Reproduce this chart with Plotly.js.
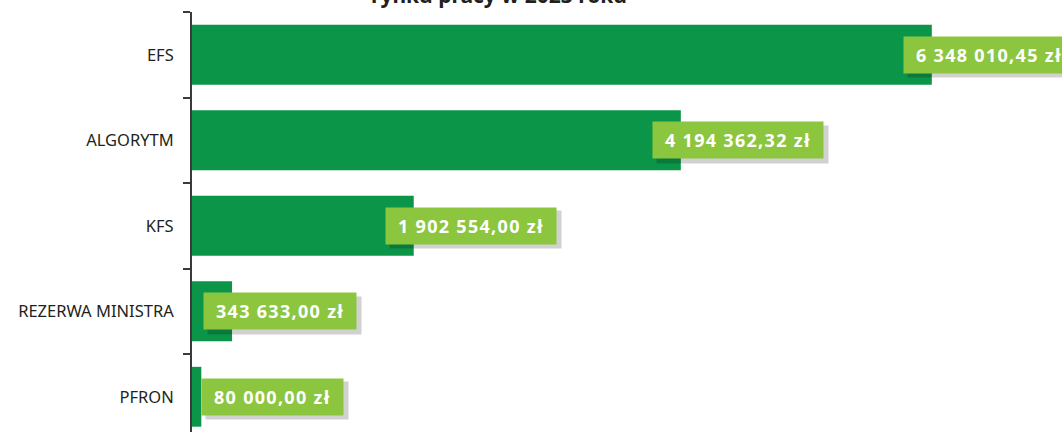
<!DOCTYPE html>
<html>
<head>
<meta charset="utf-8">
<script src="https://cdn.plot.ly/plotly-3.0.1.min.js"></script>
<style>
html,body{margin:0;padding:0;background:#fff;}
#chart{width:1062px;height:432px;}
.annotation-text.lbl, .lbltext{letter-spacing:1.3px;}
</style>
</head>
<body>
<div id="chart"></div>
<script>
const categories = ["EFS", "ALGORYTM", "KFS", "REZERWA MINISTRA", "PFRON"];
const values = [6348010.45, 4194362.32, 1902554.00, 343633.00, 80000.00];
const labelTexts = ["6 348 010,45 zł", "4 194 362,32 zł", "1 902 554,00 zł", "343 633,00 zł", "80 000,00 zł"];
const titleText = "rynku pracy w 2023 roku";

const W = 1062, H = 432;
const mL = 192, mT = 12;
const plotW = W - mL;
const xMax = 7465000;
const pxPerUnit = plotW / xMax;
const PAD = 6;

const bar = {
  type: 'bar',
  orientation: 'h',
  y: categories,
  x: values,
  width: 0.7,
  marker: {color: '#0b9548'},
  hoverinfo: 'skip'
};

const fontLbl = {family: 'Noto Sans, sans-serif', size: 18, color: '#ffffff', weight: 700};

function shiftFor(i) {
  const barPx = values[i] * pxPerUnit;
  return Math.max(-29, 9 - barPx);
}

const mainAnns = categories.map((c, i) => ({
  x: values[i], y: c, xref: 'x', yref: 'y', xanchor: 'left', yanchor: 'middle',
  xshift: shiftFor(i), yshift: 0,
  text: '<span class="lbltext" style="letter-spacing:1.3px">&nbsp;' + labelTexts[i] + '&nbsp;</span>', showarrow: false,
  bgcolor: '#8cc63f', borderpad: PAD, font: fontLbl
}));

const titleAnn = {
  x: (499 - mL) / plotW, y: 1, xref: 'paper', yref: 'paper', xanchor: 'center', yanchor: 'middle',
  yshift: 17, text: '<b>' + titleText + '</b>', showarrow: false,
  font: {family: 'Noto Sans, sans-serif', size: 21, color: '#231f20'}
};

const layout = {
  width: W, height: H,
  margin: {l: mL, r: 0, t: mT, b: 0, pad: 0},
  paper_bgcolor: '#ffffff', plot_bgcolor: '#ffffff',
  showlegend: false,
  xaxis: {range: [0, xMax], visible: false, showgrid: false, zeroline: false, fixedrange: true},
  yaxis: {
    type: 'category',
    range: [4.412, -0.5],
    showline: true, linecolor: '#3a3a3a', linewidth: 2,
    ticks: 'outside', ticklen: 7, tickwidth: 2, tickcolor: '#3a3a3a',
    tickson: 'boundaries',
    ticklabelstandoff: 13,
    showgrid: false, zeroline: false,
    tickfont: {family: 'Noto Sans, sans-serif', size: 16.5, color: '#231f20'}
  },
  annotations: mainAnns.concat([titleAnn])
};

Plotly.newPlot('chart', [bar], layout, {displayModeBar: false, staticPlot: true}).then(gd => {
  const groups = gd.querySelectorAll('g.annotation');
  const shadows = [];
  mainAnns.forEach((a, i) => {
    const r = groups[i] && groups[i].querySelector('rect.bg');
    if (!r) return;
    const w = parseFloat(r.getAttribute('width'));
    const h = parseFloat(r.getAttribute('height'));
    shadows.push({
      x: a.x, y: a.y, xref: 'x', yref: 'y', xanchor: 'left', yanchor: 'middle',
      xshift: a.xshift + 4, yshift: -4, text: '&nbsp;', showarrow: false,
      width: w - 2 * PAD, height: h - 2 * PAD,
      bgcolor: 'rgba(0,0,0,0.18)', borderpad: PAD,
      font: {family: 'Noto Sans, sans-serif', size: 4, color: 'rgba(0,0,0,0)'}
    });
  });
  return Plotly.relayout(gd, {annotations: shadows.concat(mainAnns, [titleAnn])});
});
</script>
</body>
</html>
